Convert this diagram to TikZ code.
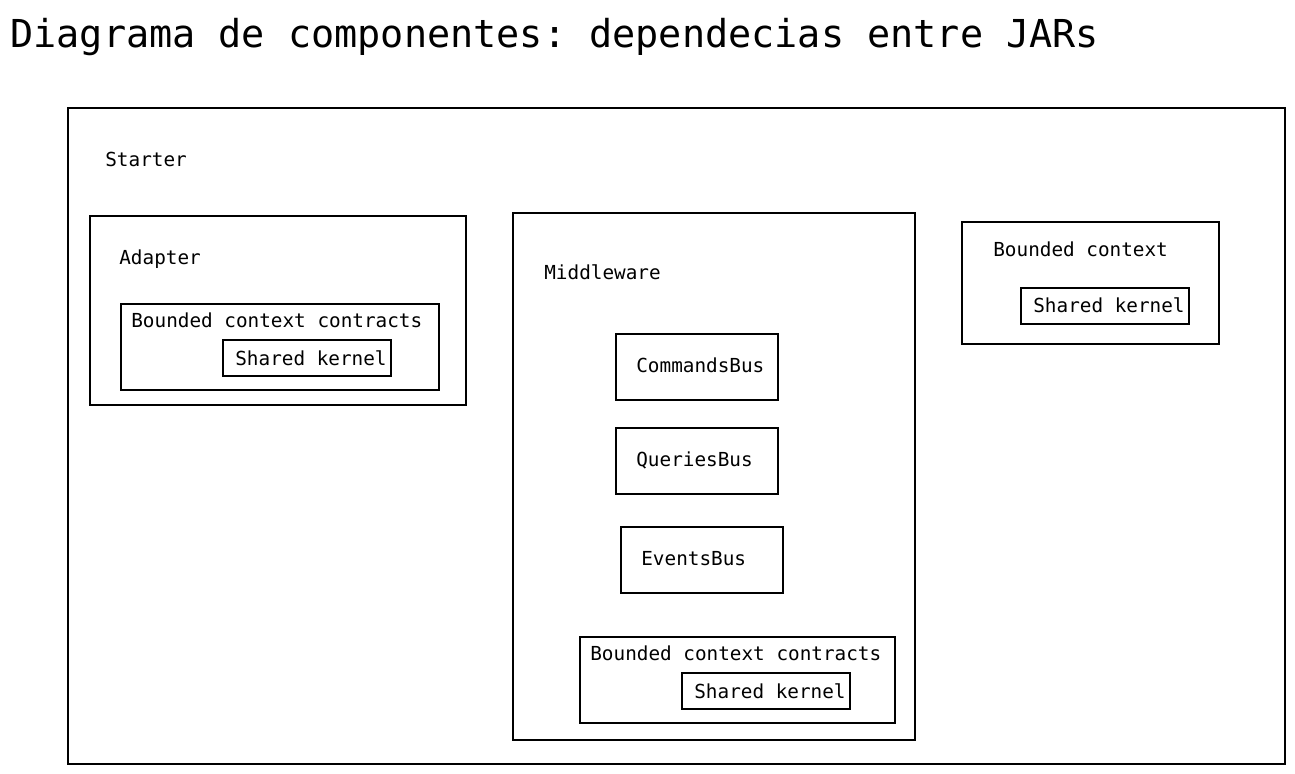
\documentclass[tikz,border=0pt]{standalone}
\usepackage{fontspec}
\setmonofont{DejaVu Sans Mono}
\usetikzlibrary{fit}

\begin{document}
\begin{tikzpicture}[
    x=0.02cm, y=-0.02cm,
    box/.style={draw, line width=0.7pt, inner sep=0pt, fit={#1}},
    lbl/.style={anchor=base west, inner sep=0pt, font=\ttfamily\fontsize{11}{13}\selectfont},
  ]

  \useasboundingbox (0,0) rectangle (1295,774);

  % Title
  \node[anchor=base west, inner sep=0pt, font=\ttfamily\fontsize{21.9}{26}\selectfont]
    (title) at (10,48) {Diagrama de componentes: dependecias entre JARs};

  % Starter
  \node[box={(68,108) (1285,764)}] (starter) {};
  \node[lbl] (starterlbl) at (105,166) {Starter};

  % Adapter
  \node[box={(90,216) (466,405)}] (adapter) {};
  \node[lbl] (adapterlbl) at (119,264) {Adapter};
  \node[box={(121,304) (439,390)}] (adcontracts) {};
  \node[lbl] (adcontractslbl) at (131,327) {Bounded context contracts};
  \node[box={(223,340) (391,376)}] (adkernel) {};
  \node[lbl] (adkernellbl) at (235,365) {Shared kernel};

  % Middleware
  \node[box={(513,213) (915,740)}] (middleware) {};
  \node[lbl] (middlewarelbl) at (544,279) {Middleware};
  \node[box={(616,334) (778,400)}] (commands) {};
  \node[lbl] (commandslbl) at (636,372) {CommandsBus};
  \node[box={(616,428) (778,494)}] (queries) {};
  \node[lbl] (querieslbl) at (636,466) {QueriesBus};
  \node[box={(621,527) (783,593)}] (events) {};
  \node[lbl] (eventslbl) at (641,565) {EventsBus};
  \node[box={(580,637) (895,723)}] (mwcontracts) {};
  \node[lbl] (mwcontractslbl) at (590,660) {Bounded context contracts};
  \node[box={(682,673) (850,709)}] (mwkernel) {};
  \node[lbl] (mwkernellbl) at (694,698) {Shared kernel};

  % Bounded context
  \node[box={(962,222) (1219,344)}] (context) {};
  \node[lbl] (contextlbl) at (993,256) {Bounded context};
  \node[box={(1021,288) (1189,324)}] (ctxkernel) {};
  \node[lbl] (ctxkernellbl) at (1033,312) {Shared kernel};

\end{tikzpicture}
\end{document}
